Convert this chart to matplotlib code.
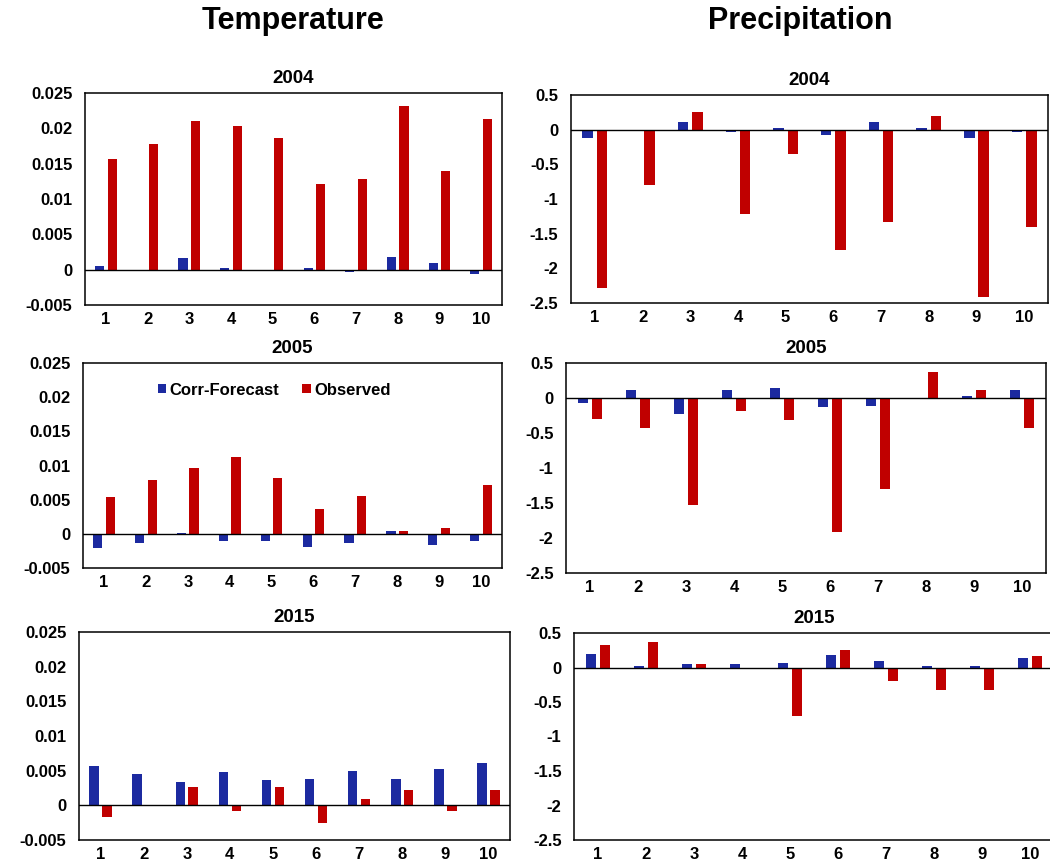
import numpy as np
import matplotlib
matplotlib.use("Agg")
import matplotlib.pyplot as plt
from matplotlib.ticker import FormatStrFormatter, MultipleLocator

plt.rcParams['font.family'] = ['Liberation Sans', 'DejaVu Sans']
plt.rcParams['axes.unicode_minus'] = False

# lead months
months = [1, 2, 3, 4, 5, 6, 7, 8, 9, 10]
years = ['2004', '2005', '2015']

# temperature (left column)
temp04_fc = [0.0005, -0.0002, 0.0016, 0.0003, -0.0002, 0.0002, -0.0004, 0.0018, 0.0009, -0.0006]
temp04_obs = [0.0156, 0.0178, 0.0210, 0.0204, 0.0186, 0.0121, 0.0128, 0.0232, 0.0139, 0.0213]
temp05_fc = [-0.0021, -0.0014, 0.0001, -0.0010, -0.0010, -0.0019, -0.0014, 0.0004, -0.0017, -0.0010]
temp05_obs = [0.0054, 0.0079, 0.0097, 0.0113, 0.0081, 0.0036, 0.0056, 0.0004, 0.0008, 0.0072]
temp15_fc = [0.0057, 0.0045, 0.0034, 0.00475, 0.0036, 0.00385, 0.0050, 0.00385, 0.0052, 0.0061]
temp15_obs = [-0.0017, 0.0001, 0.0027, -0.0008, 0.0027, -0.0026, 0.0009, 0.0022, -0.0008, 0.0022]

# precipitation (right column)
prec04_fc = [-0.125, -0.01, 0.105, -0.04, 0.03, -0.08, 0.105, 0.03, -0.125, -0.04]
prec04_obs = [-2.29, -0.80, 0.26, -1.22, -0.35, -1.74, -1.33, 0.20, -2.41, -1.40]
prec05_fc = [-0.07, 0.12, -0.23, 0.12, 0.14, -0.13, -0.11, -0.01, 0.03, 0.12]
prec05_obs = [-0.30, -0.43, -1.53, -0.18, -0.32, -1.91, -1.30, 0.37, 0.12, -0.43]
prec15_fc = [0.20, 0.02, 0.05, 0.05, 0.07, 0.18, 0.095, 0.025, 0.025, 0.14]
prec15_obs = [0.32, 0.365, 0.05, -0.01, -0.70, 0.25, -0.20, -0.32, -0.32, 0.16]

BLUE = '#1c2aa0'
RED = '#c00000'
W, H = 1050, 861


def px_rect(l, r, t, b):
    """pixel box -> figure fraction rect"""
    return [l / W, 1 - b / H, (r - l) / W, (b - t) / H]


def draw_panel(ax, fc, obs, title, ylim, step):
    x = np.arange(len(months))
    ax.bar(x - 0.15, fc, width=0.22, color=BLUE, label='Corr-Forecast')
    ax.bar(x + 0.15, obs, width=0.22, color=RED, label='Observed')
    ax.axhline(0, color='black', lw=1.0)
    ax.set_xlim(-0.5, len(months) - 0.5)
    ax.set_ylim(*ylim)
    ax.yaxis.set_major_locator(MultipleLocator(step))
    ax.yaxis.set_major_formatter(FormatStrFormatter('%g'))
    ax.set_xticks(x)
    ax.set_xticklabels([str(m) for m in months])
    ax.tick_params(axis='both', length=0, labelsize=12)
    ax.tick_params(axis='y', pad=9)
    ax.tick_params(axis='x', pad=5)
    for lbl in ax.get_xticklabels() + ax.get_yticklabels():
        lbl.set_fontweight('bold')
    for sp in ax.spines.values():
        sp.set_linewidth(1.1)
    ax.set_title(title, fontsize=13.5, fontweight='bold', pad=7)


fig = plt.figure(figsize=(10.5, 8.61), dpi=100)

left_boxes = [(85, 502, 93, 305), (83, 502, 363, 568), (79, 510, 632, 840)]
right_boxes = [(571, 1048, 95, 303), (566, 1046, 363, 573), (574, 1054, 633, 840)]
temp_sets = [(temp04_fc, temp04_obs), (temp05_fc, temp05_obs), (temp15_fc, temp15_obs)]
prec_sets = [(prec04_fc, prec04_obs), (prec05_fc, prec05_obs), (prec15_fc, prec15_obs)]

for i in range(3):
    axl = fig.add_axes(px_rect(*left_boxes[i]))
    draw_panel(axl, temp_sets[i][0], temp_sets[i][1], years[i], (-0.005, 0.025), 0.005)
    if i == 1:
        axl.legend(loc='center', bbox_to_anchor=(0.456, 0.868), ncol=2, frameon=False,
                   prop={'size': 12, 'weight': 'bold'}, handlelength=0.5, handleheight=0.5,
                   handletextpad=0.2, columnspacing=1.4)
    axr = fig.add_axes(px_rect(*right_boxes[i]))
    draw_panel(axr, prec_sets[i][0], prec_sets[i][1], years[i], (-2.5, 0.5), 0.5)

fig.text(293 / W, 1 - 21 / H, 'Temperature', ha='center', va='center', fontsize=22, fontweight='bold')
fig.text(800 / W, 1 - 21 / H, 'Precipitation', ha='center', va='center', fontsize=22, fontweight='bold')

fig.savefig('out.png', dpi=100)
